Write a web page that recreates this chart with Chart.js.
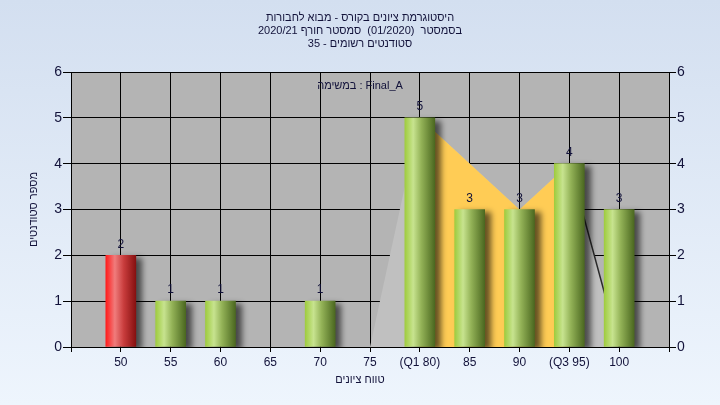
<!DOCTYPE html>
<html>
<head>
<meta charset="utf-8">
<script src="https://cdn.jsdelivr.net/npm/chart.js@4.4.1/dist/chart.umd.min.js"></script>
<style>
  html, body { margin: 0; padding: 0; }
  body { width: 720px; height: 405px; overflow: hidden; background: linear-gradient(#d3dff0, #eef5fd); }
  #wrap { position: relative; width: 720px; height: 405px; }
</style>
</head>
<body>
<div id="wrap"><canvas id="histChart"></canvas></div>
<script>
// ============================================================
// Histogramme des notes — barres + zone Q1..Q3 + étendue
// ============================================================

// --- données ---
const gradeLabels   = ['', '50', '55', '60', '65', '70', '75', '(Q1 80)', '85', '90', '(Q3 95)', '100', ''];
const studentCounts = [null, 2, 1, 1, 0, 1, 0, 5, 3, 3, 4, 3, null];
const failingGrades = ['50'];
const rangeOutline  = [null, null, null, null, null, null, 0, 5, null, 3, 4, 0, null];
const iqrOutline    = [null, null, null, null, null, null, null, 5, null, 3, 4, null, null];
const yMin = 0, yMax = 6, yStep = 1;

const titleLines = [
  'היסטוגרמת ציונים בקורס - מבוא לחבורות',
  'בסמסטר  (01/2020)  סמסטר חורף 2020/21',
  'סטודנטים רשומים - 35',
];
const taskLabel = 'במשימה : Final_A';
const xTitle    = 'טווח ציונים';
const yTitle    = 'מספר סטודנטים';

// --- style ---
const FONT   = '"Liberation Sans", Arial, sans-serif';
const INK    = '#12123a';
const BAR_W  = 30;
const GREEN_STOPS = [[0, '#9fcc3f'], [0.28, '#c7e38f'], [0.55, '#93b257'], [1, '#4b6820']];
const RED_STOPS   = [[0, '#ff1c1c'], [0.3, '#f07c7c'], [0.6, '#c83c3c'], [1, '#861010']];

function barFill(ctx) {
  const chart = ctx.chart;
  if (!chart.chartArea || ctx.type !== 'data') return '#9fcc3f';
  if (!studentCounts[ctx.dataIndex]) return 'transparent';
  const x = chart.scales.x.getPixelForValue(ctx.dataIndex);
  const g = chart.ctx.createLinearGradient(x - BAR_W / 2, 0, x + BAR_W / 2, 0);
  const stops = failingGrades.includes(gradeLabels[ctx.dataIndex]) ? RED_STOPS : GREEN_STOPS;
  stops.forEach(([o, c]) => g.addColorStop(o, c));
  return g;
}

const plotBg = {
  id: 'plotBg',
  beforeDraw(chart) {
    const { ctx, chartArea: a } = chart;
    ctx.save();
    ctx.fillStyle = '#b4b4b4';
    ctx.fillRect(a.left, a.top, a.right - a.left, a.bottom - a.top);
    ctx.restore();
  },
};

const barShadow = {
  id: 'barShadow',
  beforeDatasetDraw(chart, args) {
    if (args.meta.type !== 'bar') return;
    const c = chart.ctx;
    c.save();
    c.shadowColor = 'rgba(0,0,0,0.6)';
    c.shadowBlur = 6;
    c.shadowOffsetX = 6;
    c.shadowOffsetY = 3;
  },
  afterDatasetDraw(chart, args) {
    if (args.meta.type !== 'bar') return;
    chart.ctx.restore();
  },
};

const barValues = {
  id: 'barValues',
  afterDatasetsDraw(chart) {
    const c = chart.ctx;
    const meta = chart.getDatasetMeta(0);
    c.save();
    c.font = '12px ' + FONT;
    c.fillStyle = INK;
    c.textAlign = 'center';
    c.textBaseline = 'middle';
    meta.data.forEach((bar, i) => {
      const v = studentCounts[i];
      if (!v) return;
      c.fillText(String(v), bar.x, bar.y - 11);
    });
    c.restore();
  },
};

const headerText = {
  id: 'headerText',
  afterDraw(chart) {
    const c = chart.ctx;
    c.save();
    c.font = '11px ' + FONT;
    c.fillStyle = INK;
    c.textAlign = 'center';
    c.textBaseline = 'middle';
    titleLines.forEach((t, i) => c.fillText(t, 360, 18 + i * 13));
    c.fillText(xTitle, 360, 380);
    c.fillText(taskLabel, 360, 86);
    c.restore();
  },
};

new Chart(document.getElementById('histChart'), {
  type: 'bar',
  data: {
    labels: gradeLabels,
    datasets: [
      {
        label: 'סטודנטים',
        data: studentCounts,
        backgroundColor: barFill,
        borderWidth: 0,
        barThickness: BAR_W,
        order: 0,
      },
      {
        type: 'line',
        label: 'Q1-Q3',
        data: iqrOutline,
        spanGaps: true,
        fill: 'origin',
        backgroundColor: '#ffcc55',
        borderWidth: 0,
        pointRadius: 0,
        tension: 0,
        order: 1,
      },
      {
        type: 'line',
        label: 'range',
        data: rangeOutline,
        spanGaps: true,
        fill: 'origin',
        backgroundColor: '#c0c0c0',
        borderColor: 'transparent',
        borderWidth: 1.5,
        pointRadius: 0,
        tension: 0,
        order: 2,
        segment: {
          borderColor: s => (s.p1.parsed.y === 0 && s.p0.parsed.y > 0 ? '#2a2a2a' : 'transparent'),
        },
      },
    ],
  },
  options: {
    responsive: true,
    maintainAspectRatio: false,
    animation: false,
    layout: { padding: { top: 72, left: 0, right: 0, bottom: 0 } },
    plugins: { legend: { display: false }, tooltip: { enabled: false }, title: { display: false } },
    scales: {
      x: {
        type: 'category',
        offset: false,
        grid: { color: '#000', offset: false, tickLength: 5, lineWidth: 1 },
        border: { color: '#000' },
        ticks: { autoSkip: false, maxRotation: 0, padding: 3, color: INK, font: { family: FONT, size: 12 } },
        afterFit: s => { s.height = 58; },
      },
      y: {
        position: 'left',
        min: yMin, max: yMax,
        grid: { color: '#000', tickLength: 8, lineWidth: 1 },
        border: { color: '#000' },
        ticks: { stepSize: yStep, padding: 1, color: INK, font: { family: FONT, size: 14 } },
        title: { display: true, text: yTitle, color: INK, font: { family: FONT, size: 11 }, padding: { top: 27, bottom: 0 } },
        afterFit: s => { s.width = 71; },
      },
      y1: {
        position: 'right',
        min: yMin, max: yMax,
        grid: { color: '#000', drawOnChartArea: false, tickLength: 7, lineWidth: 1 },
        border: { color: '#000' },
        ticks: { stepSize: yStep, padding: 1, color: INK, font: { family: FONT, size: 14 } },
        afterFit: s => { s.width = 51; },
      },
    },
  },
  plugins: [plotBg, barShadow, barValues, headerText],
});
</script>
</body>
</html>
